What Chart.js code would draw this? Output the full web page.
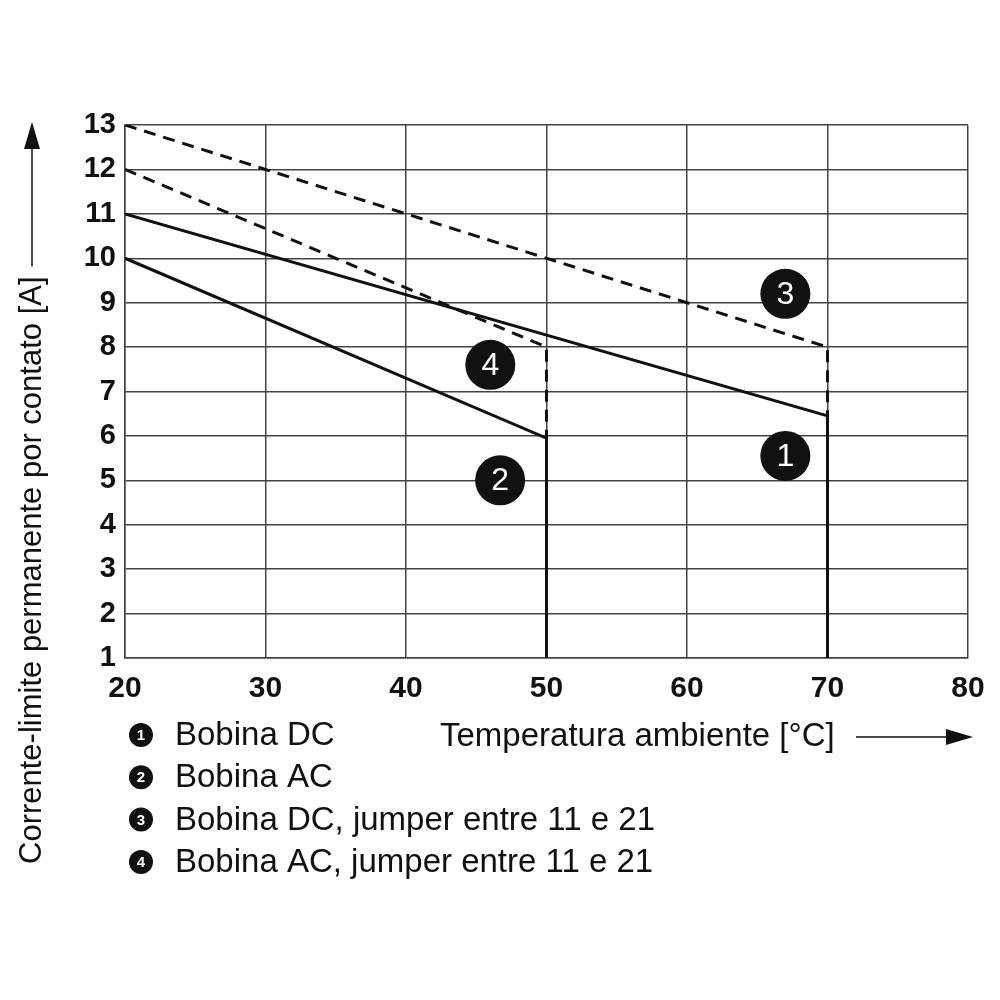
<!DOCTYPE html>
<html>
<head>
<meta charset="utf-8">
<script src="https://cdn.jsdelivr.net/npm/chart.js@4"></script>
<style>
  html, body { margin: 0; padding: 0; background: #fff; }
  #wrap { width: 1000px; height: 1000px; }
</style>
</head>
<body>
<div id="wrap"><canvas id="derating"></canvas></div>
<script>
// curves: temperature [°C] vs current [A]
const dcX = [20, 70, 70];
const dcY = [11, 6.45, 1];
const acX = [20, 50, 50];
const acY = [10, 5.95, 1];
const dcJumperX = [20, 70, 70];
const dcJumperY = [13, 8, 6.45];
const acJumperX = [20, 50, 50];
const acJumperY = [12, 8, 5.95];

// numbered badges on the chart
const badgeX = [67, 46.7, 67, 46];
const badgeY = [5.55, 5.0, 9.2, 7.6];
const badgeText = ['1', '2', '3', '4'];

const legendItems = [
    'Bobina DC',
    'Bobina AC',
    'Bobina DC, jumper entre 11 e 21',
    'Bobina AC, jumper entre 11 e 21'
];
const xTitle = 'Temperatura ambiente [°C]';
const yTitle = 'Corrente-limite permanente por contato [A]';

function toPoints(xs, ys) {
    return xs.map((x, i) => ({ x: x, y: ys[i] }));
}

const FONT = '"Liberation Sans", Arial, sans-serif';

const decorPlugin = {
    id: 'decor',
    afterDatasetsDraw(chart) {
        const ctx = chart.ctx;
        const meta = chart.getDatasetMeta(4);
        ctx.save();
        ctx.fillStyle = '#fff';
        ctx.font = '32px ' + FONT;
        ctx.textAlign = 'center';
        ctx.textBaseline = 'middle';
        meta.data.forEach((pt, i) => {
            ctx.fillText(badgeText[i], pt.x, pt.y + 1);
        });
        ctx.restore();
    },
    afterDraw(chart) {
        const ctx = chart.ctx;
        ctx.save();
        ctx.fillStyle = '#111';
        ctx.strokeStyle = '#111';

        // legend
        legendItems.forEach((txt, i) => {
            const y = 735 + i * 42.3;
            ctx.beginPath();
            ctx.arc(141, y, 12, 0, Math.PI * 2);
            ctx.fillStyle = '#111';
            ctx.fill();
            ctx.fillStyle = '#fff';
            ctx.font = 'bold 15px ' + FONT;
            ctx.textAlign = 'center';
            ctx.textBaseline = 'middle';
            ctx.fillText(String(i + 1), 141, y + 1);
            ctx.fillStyle = '#111';
            ctx.font = '33px ' + FONT;
            ctx.textAlign = 'left';
            ctx.fillText(txt, 175, y + 1);
        });

        // x title with arrow
        ctx.font = '33px ' + FONT;
        ctx.textAlign = 'left';
        ctx.textBaseline = 'middle';
        ctx.fillText(xTitle, 440, 737);
        ctx.lineWidth = 1.5;
        ctx.beginPath();
        ctx.moveTo(856, 737);
        ctx.lineTo(950, 737);
        ctx.stroke();
        ctx.beginPath();
        ctx.moveTo(973, 737);
        ctx.lineTo(946, 729);
        ctx.lineTo(946, 745);
        ctx.closePath();
        ctx.fill();

        // y title with arrow
        ctx.font = '31px ' + FONT;
        ctx.translate(32, 864);
        ctx.rotate(-Math.PI / 2);
        ctx.fillText(yTitle, 0, 0);
        const w = ctx.measureText(yTitle).width;
        ctx.beginPath();
        ctx.moveTo(w + 10, 0);
        ctx.lineTo(864 - 145, 0);
        ctx.stroke();
        ctx.beginPath();
        ctx.moveTo(864 - 122, 0);
        ctx.lineTo(864 - 149, -8);
        ctx.lineTo(864 - 149, 8);
        ctx.closePath();
        ctx.fill();
        ctx.restore();
    }
};

function lineSet(xs, ys, dashed) {
    return {
        data: toPoints(xs, ys),
        showLine: true,
        borderColor: '#111',
        borderWidth: 3,
        borderDash: dashed ? [12, 8] : [],
        pointRadius: 0,
        fill: false
    };
}

new Chart(document.getElementById('derating'), {
    type: 'scatter',
    data: {
        datasets: [
            lineSet(dcX, dcY, false),
            lineSet(acX, acY, false),
            lineSet(dcJumperX, dcJumperY, true),
            lineSet(acJumperX, acJumperY, true),
            {
                data: toPoints(badgeX, badgeY),
                pointRadius: 25,
                pointHoverRadius: 25,
                backgroundColor: '#111',
                borderWidth: 0
            }
        ]
    },
    options: {
        responsive: true,
        maintainAspectRatio: false,
        animation: false,
        events: [],
        layout: {
            padding: { top: 125, right: 32, bottom: 282, left: 0 }
        },
        plugins: {
            legend: { display: false },
            tooltip: { enabled: false }
        },
        scales: {
            x: {
                type: 'linear',
                min: 20,
                max: 80,
                ticks: {
                    stepSize: 10,
                    color: '#111',
                    padding: 13,
                    font: { family: FONT, size: 30, weight: 'bold' }
                },
                grid: { color: '#444', lineWidth: 1.5, drawTicks: false },
                border: { color: '#444', width: 1.5 },
                afterFit(scale) { scale.height = 60; }
            },
            y: {
                type: 'linear',
                min: 1,
                max: 13,
                ticks: {
                    stepSize: 1,
                    color: '#111',
                    padding: 9,
                    font: { family: FONT, size: 29, weight: 'bold' }
                },
                grid: { color: '#444', lineWidth: 1.5, drawTicks: false },
                border: { color: '#444', width: 1.5 },
                afterFit(scale) { scale.width = 125; }
            }
        }
    },
    plugins: [decorPlugin]
});
</script>
</body>
</html>
